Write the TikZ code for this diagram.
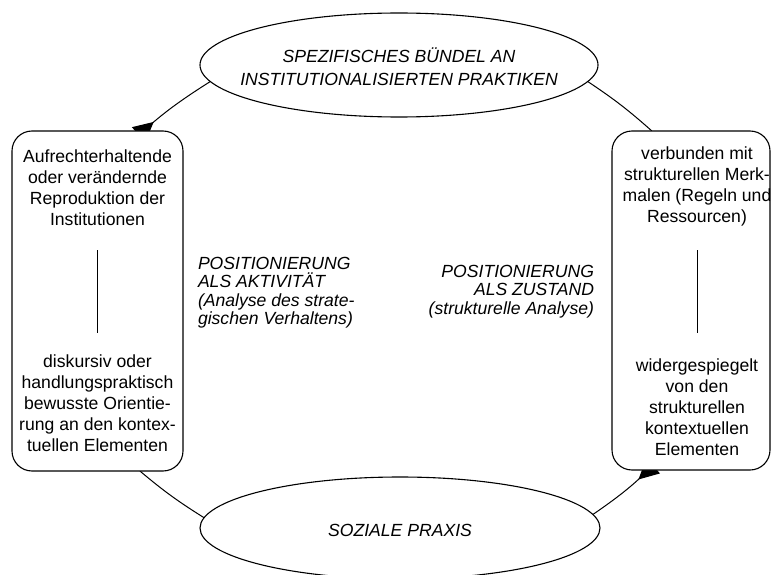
\documentclass[tikz,border=0pt]{standalone}
\usepackage{fontspec}
\setmainfont{Liberation Sans}
\usetikzlibrary{shapes.geometric,arrows.meta,backgrounds}
\begin{document}
\begin{tikzpicture}[x=1pt,y=-1pt,
  every node/.style={inner sep=0pt, outer sep=0pt},
  ell/.style={ellipse, draw, line width=1.1pt, fill=white},
  box/.style={rectangle, rounded corners=20pt, draw, line width=1.1pt, fill=white},
  boxtext/.style={align=center, font=\fontsize{17.6}{21}\selectfont},
  elltext/.style={align=center, font=\fontsize{17.6}{23}\selectfont\itshape},
  postext/.style={font=\fontsize{17.6}{18.4}\selectfont\itshape},
  conn/.style={line width=1pt},
  head/.style={-{Triangle[reversed,length=20pt,width=20pt]}, shorten >=-6pt},
  sep/.style={line width=1pt}
]
\useasboundingbox (0,0) rectangle (771,575);

% main nodes
\node[ell, minimum width=398pt, minimum height=104pt] (top) at (399,65) {};
\node[ell, minimum width=400pt, minimum height=102pt] (bot) at (400,528) {};
\node[box, minimum width=171pt, minimum height=340pt] (left) at (97.5,301) {};
\node[box, minimum width=158pt, minimum height=339pt] (right) at (691,300.5) {};

% texts
\node[elltext] (toptext) at (399,66.5) {SPEZIFISCHES BÜNDEL AN\\INSTITUTIONALISIERTEN PRAKTIKEN};
\node[elltext] (bottext) at (400,530) {SOZIALE PRAXIS};

\node[boxtext] (lefttop) at (97.5,188) {Aufrechterhaltende\\oder verändernde\\Reproduktion der\\Institutionen};
\node[boxtext] (leftbot) at (97.5,403) {diskursiv oder\\handlungspraktisch\\bewusste Orientie-\\rung an den kontex-\\tuellen Elementen};
\node[boxtext] (righttop) at (697,186) {verbunden mit\\strukturellen Merk-\\malen (Regeln und\\Ressourcen)};
\node[boxtext] (rightbot) at (697,407) {widergespiegelt\\von den\\strukturellen\\kontextuellen\\Elementen};

\node[postext, align=left, anchor=west] (posakt) at (198,292.5) {POSITIONIERUNG\\ALS AKTIVITÄT\\(Analyse des strate-\\gischen Verhaltens)};
\node[postext, align=right, anchor=east] (poszus) at (594,291.5) {POSITIONIERUNG\\ALS ZUSTAND\\(strukturelle Analyse)};

% separators inside boxes
\coordinate (la) at (97,250);
\coordinate (lb) at (97,333);
\coordinate (ra) at (697,250);
\coordinate (rb) at (697,333);
\draw[sep] (la) -- (lb);
\draw[sep] (ra) -- (rb);

% connectors
\begin{scope}[on background layer]
\draw[conn, head] (top.185) to[bend right=4] (left.75);
\draw[conn] (top.355) to[bend left=4] (right.103);
\draw[conn] (left.284) to[bend right=4] (bot.177);
\draw[conn, head] (bot.4) to[bend right=4] (right.256);
\end{scope}
\end{tikzpicture}
\end{document}
